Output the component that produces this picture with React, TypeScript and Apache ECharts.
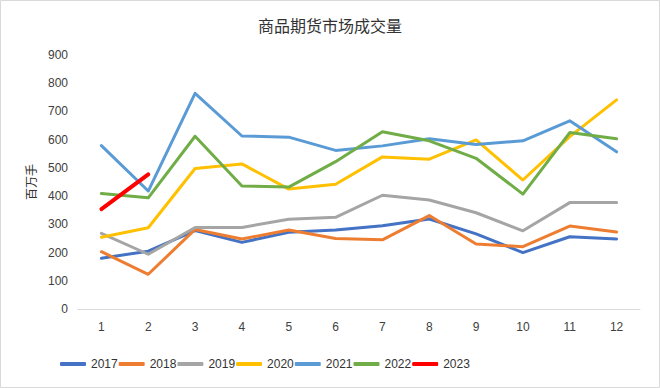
import React, { useEffect, useRef } from "react";
import * as echarts from "echarts";

const months = ["1", "2", "3", "4", "5", "6", "7", "8", "9", "10", "11", "12"];
const years = ["2017", "2018", "2019", "2020", "2021", "2022", "2023"];
const v2017 = [180, 205, 278, 236, 272, 280, 295, 319, 266, 200, 256, 248];
const v2018 = [203, 123, 282, 248, 280, 250, 245, 331, 230, 221, 294, 273];
const v2019 = [268, 194, 289, 289, 318, 325, 403, 386, 341, 277, 377, 377];
const v2020 = [254, 288, 498, 514, 425, 442, 539, 531, 599, 457, 611, 741];
const v2021 = [579, 418, 764, 613, 609, 562, 578, 603, 583, 596, 667, 557];
const v2022 = [409, 394, 612, 436, 432, 522, 628, 596, 534, 407, 625, 603];
const v2023 = [354, 477];
const colors = ["#4472C4", "#ED7D31", "#A5A5A5", "#FFC000", "#5B9BD5", "#70AD47", "#FF0000"];
const yTicks = [0, 100, 200, 300, 400, 500, 600, 700, 800, 900];

export default function App() {
  const ref = useRef<HTMLDivElement>(null);
  useEffect(() => {
    if (!ref.current) return;
    const chart = echarts.init(ref.current, null, { renderer: "svg" });
    const data = [v2017, v2018, v2019, v2020, v2021, v2022, v2023];
    const numFont = "Liberation Sans";
    chart.setOption({
      animation: false,
      backgroundColor: "#ffffff",
      title: {
        text: "商品期货市场成交量",
        left: "center",
        top: 12,
        textStyle: { fontFamily: "Noto Sans CJK SC", fontSize: 16, fontWeight: "normal", color: "#333333" },
      },
      graphic: [
        {
          type: "rect",
          shape: { x: 0.5, y: 0.5, width: 659, height: 387 },
          style: { fill: "none", stroke: "#d9d9d9", lineWidth: 1 },
          silent: true,
        },
      ],
      legend: {
        left: 55,
        top: 353,
        itemWidth: 26,
        itemHeight: 4,
        itemGap: 1,
        icon: "roundRect",
        textStyle: { fontFamily: numFont, fontSize: 12, color: "#333333" },
        data: years,
      },
      grid: { left: 78, right: 20, top: 55, bottom: 79 },
      xAxis: {
        type: "category",
        data: months,
        boundaryGap: true,
        axisLine: { lineStyle: { color: "#d9d9d9" } },
        axisTick: { show: false },
        axisLabel: { fontFamily: numFont, fontSize: 12, color: "#404040", margin: 12 },
      },
      yAxis: {
        type: "value",
        min: yTicks[0],
        max: yTicks[yTicks.length - 1],
        interval: 100,
        name: "百万手",
        nameLocation: "middle",
        nameRotate: 90,
        nameGap: 42,
        nameTextStyle: { fontFamily: "Noto Sans CJK SC", fontSize: 12, color: "#333333" },
        axisLine: { show: false },
        axisTick: { show: false },
        splitLine: { show: false },
        axisLabel: { fontFamily: numFont, fontSize: 12, color: "#404040", margin: 10 },
      },
      series: years.map((y, i) => ({
        name: y,
        type: "line",
        data: data[i],
        symbol: "none",
        color: colors[i],
        lineStyle: { width: i === 6 ? 4 : 3, color: colors[i], cap: "round", join: "round" },
        z: i === 6 ? 10 : 2,
      })),
    });
    return () => chart.dispose();
  }, []);
  return (
    <div
      ref={ref}
      style={{ position: "fixed", left: 0, top: 0, width: 660, height: 388 }}
    />
  );
}
